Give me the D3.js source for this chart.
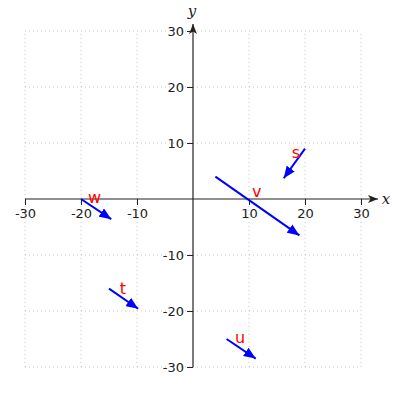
<!DOCTYPE html>
<html><head><meta charset="utf-8">
<script src="https://cdn.jsdelivr.net/npm/d3@7"></script>
<style>body{margin:0;background:#fff}</style>
</head><body>
<script>
const names = ["s","v","w","t","u"];
const startX = [20, 4, -20, -15, 6];
const startY = [9, 4, 0, -16, -25];
const endX = [16.2, 19, -14.6, -9.8, 11.2];
const endY = [3.7, -6.5, -3.6, -19.6, -28.5];
const labelX = [18.4, 11.4, -17.6, -12.5, 8.4];
const labelY = [7.3, 0.3, -0.8, -16.9, -25.7];
const ticks = [-30,-20,-10,10,20,30];

const W=400,H=400;
const svg=d3.select("body").append("svg").attr("width",W).attr("height",H);
const x=d3.scaleLinear().domain([-30,30]).range([25,361]);
const y=d3.scaleLinear().domain([-30,30]).range([367,31]);

const defs=svg.append("defs");
defs.append("marker").attr("id","vh").attr("viewBox","0 0 12 10").attr("refX",12).attr("refY",5)
 .attr("markerWidth",12).attr("markerHeight",10).attr("markerUnits","userSpaceOnUse").attr("orient","auto")
 .append("path").attr("d","M0,0L12,5L0,10Z").attr("fill","blue");
defs.append("marker").attr("id","ah").attr("viewBox","0 0 10 8").attr("refX",10).attr("refY",4)
 .attr("markerWidth",10).attr("markerHeight",8).attr("markerUnits","userSpaceOnUse").attr("orient","auto")
 .append("path").attr("d","M0,0L10,4L0,8L2.5,4Z").attr("fill","#222");

// grid
const g=svg.append("g").attr("stroke","#c8c8c8").attr("stroke-width",1).attr("stroke-dasharray","1,3");
g.selectAll(".gv").data(ticks).join("line").attr("x1",d=>x(d)).attr("x2",d=>x(d)).attr("y1",y(-30)).attr("y2",y(30));
g.selectAll(".gh").data(ticks).join("line").attr("y1",d=>y(d)).attr("y2",d=>y(d)).attr("x1",x(-30)).attr("x2",x(30));

// axes
const fmt=d=>String(d);
const xAxis=d3.axisBottom(x).tickValues(ticks).tickSize(6).tickPadding(4).tickFormat(fmt);
const yAxis=d3.axisLeft(y).tickValues(ticks).tickSize(6).tickPadding(3).tickFormat(fmt);
const gx=svg.append("g").attr("transform",`translate(0,${y(0)})`).call(xAxis);
const gy=svg.append("g").attr("transform",`translate(${x(0)},0)`).call(yAxis);
[gx,gy].forEach(a=>{a.select(".domain").remove();
 a.selectAll("line").attr("stroke","#222");
 a.selectAll("text").attr("font-family","DejaVu Sans").attr("font-size",13).attr("fill","#222");});
svg.append("line").attr("x1",x(-30)).attr("x2",378).attr("y1",y(0)).attr("y2",y(0)).attr("stroke","#222").attr("stroke-width",1.2).attr("marker-end","url(#ah)");
svg.append("line").attr("x1",x(0)).attr("x2",x(0)).attr("y1",y(-30)).attr("y2",24).attr("stroke","#222").attr("stroke-width",1.2).attr("marker-end","url(#ah)");
svg.append("text").attr("x",386).attr("y",204).attr("text-anchor","middle").attr("font-family","DejaVu Serif").attr("font-style","italic").attr("font-size",15).attr("fill","#222").text("x");
svg.append("text").attr("x",192).attr("y",16).attr("text-anchor","middle").attr("font-family","DejaVu Serif").attr("font-style","italic").attr("font-size",15).attr("fill","#222").text("y");

// vectors
const vg=svg.append("g");
vg.selectAll("line").data(names).join("line")
 .attr("x1",(d,i)=>x(startX[i])).attr("y1",(d,i)=>y(startY[i]))
 .attr("x2",(d,i)=>x(endX[i])).attr("y2",(d,i)=>y(endY[i]))
 .attr("stroke","blue").attr("stroke-width",2).attr("marker-end","url(#vh)");
vg.selectAll("text").data(names).join("text")
 .attr("x",(d,i)=>x(labelX[i])).attr("y",(d,i)=>y(labelY[i]))
 .attr("text-anchor","middle").attr("font-family","DejaVu Sans").attr("font-size",16).attr("fill","red").text(d=>d);
</script>
</body></html>
